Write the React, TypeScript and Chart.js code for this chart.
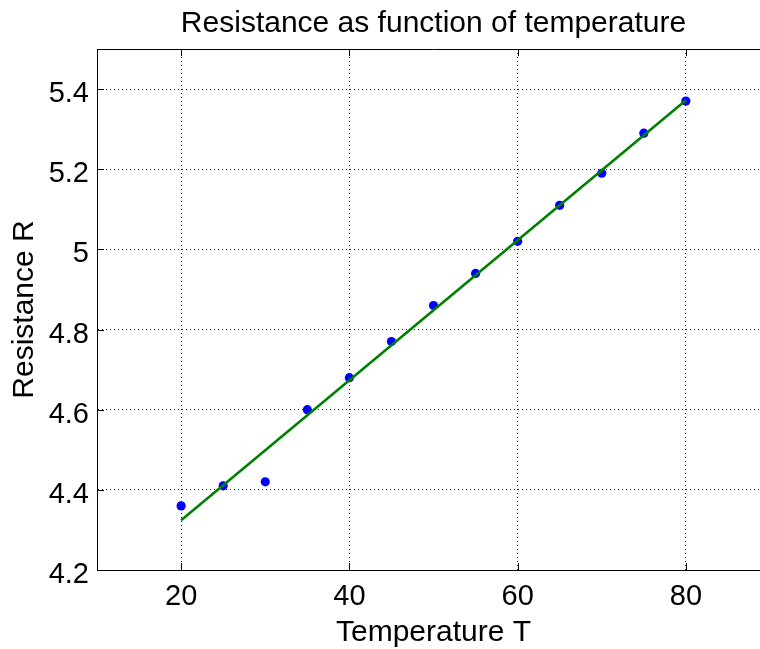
import React, { useEffect, useRef } from "react";
import { Chart, registerables } from "chart.js";

Chart.register(...registerables);

const temperature = [20, 25, 30, 35, 40, 45, 50, 55, 60, 65, 70, 75, 80];
const resistance = [4.36, 4.41, 4.42, 4.6, 4.68, 4.77, 4.86, 4.94, 5.02, 5.11, 5.19, 5.29, 5.37];
const fitT = [20, 80];
const fitR = [4.324, 5.372];
const xTicks = [20, 40, 60, 80];
const yTicks = [4.2, 4.4, 4.6, 4.8, 5.0, 5.2, 5.4];

const FONT = "'Liberation Sans', Arial, Helvetica, sans-serif";
const TICK_LEN = 7;

const framePlugin = {
  id: "frame",
  beforeDatasetsDraw(chart: any) {
    const { ctx, chartArea, scales } = chart;
    const { left, right, top, bottom } = chartArea;
    const xs = scales.x;
    const ys = scales.y;
    ctx.save();
    ctx.strokeStyle = "#000";
    ctx.lineWidth = 1;
    ctx.setLineDash([]);
    ctx.beginPath();
    for (const v of xTicks) {
      const px = Math.round(xs.getPixelForValue(v)) + 0.5;
      ctx.moveTo(px, bottom);
      ctx.lineTo(px, bottom - TICK_LEN);
      ctx.moveTo(px, top);
      ctx.lineTo(px, top + TICK_LEN);
    }
    for (const v of yTicks) {
      const py = Math.round(ys.getPixelForValue(v)) + 0.5;
      ctx.moveTo(left, py);
      ctx.lineTo(left + TICK_LEN, py);
      ctx.moveTo(right, py);
      ctx.lineTo(right - TICK_LEN, py);
    }
    const t = Math.round(top) + 0.5;
    const r = Math.round(right) + 0.5;
    ctx.moveTo(left, t);
    ctx.lineTo(right, t);
    ctx.moveTo(r, top);
    ctx.lineTo(r, bottom);
    ctx.stroke();
    ctx.restore();
  },
};

export default function App() {
  const ref = useRef<HTMLCanvasElement | null>(null);

  useEffect(() => {
    if (!ref.current) return;
    const chart = new Chart(ref.current, {
      type: "scatter",
      data: {
        datasets: [
          {
            type: "line",
            label: "fit",
            data: fitT.map((t, i) => ({ x: t, y: fitR[i] })),
            borderColor: "#008000",
            borderWidth: 2.6,
            pointRadius: 0,
            fill: false,
          },
          {
            label: "measured",
            data: temperature.map((t, i) => ({ x: t, y: resistance[i] })),
            backgroundColor: "#0000ff",
            borderColor: "#0000ff",
            pointRadius: 4.6,
            pointBorderWidth: 0,
            showLine: false,
          },
        ],
      } as any,
      options: {
        animation: false,
        responsive: false,
        layout: { padding: { left: 0, right: 30, top: 0, bottom: 0 } },
        plugins: {
          legend: { display: false },
          tooltip: { enabled: false },
          title: {
            display: true,
            text: "Resistance as function of temperature",
            color: "#000",
            fullSize: false,
            font: { family: FONT, size: 30, weight: "normal" },
            padding: { top: 6, bottom: 7 },
          },
        },
        scales: {
          x: {
            type: "linear",
            min: 10,
            max: 90,
            afterBuildTicks: (s: any) => {
              s.ticks = xTicks.map((v) => ({ value: v }));
            },
            afterFit: (s: any) => {
              s.height = 79;
            },
            ticks: {
              color: "#000",
              font: { family: FONT, size: 29 },
              padding: 10,
              maxRotation: 0,
              autoSkip: false,
              callback: (v: any) => String(v),
            },
            grid: {
              color: "rgba(0,0,0,0.85)",
              lineWidth: 1,
              drawTicks: false,
            },
            border: { display: true, color: "#000", width: 1, dash: [1, 3] },
            title: {
              display: true,
              text: "Temperature T",
              color: "#000",
              font: { family: FONT, size: 30, lineHeight: 1 },
              padding: { top: 0, bottom: 1 },
            },
          },
          y: {
            type: "linear",
            min: 4.2,
            max: 5.5,
            afterBuildTicks: (s: any) => {
              s.ticks = yTicks.map((v) => ({ value: v }));
            },
            afterFit: (s: any) => {
              s.width = 97;
            },
            ticks: {
              color: "#000",
              font: { family: FONT, size: 29 },
              padding: 8,
              labelOffset: 5,
              autoSkip: false,
              callback: (v: any) => String(Math.round(Number(v) * 10) / 10),
            },
            grid: {
              color: "rgba(0,0,0,0.85)",
              lineWidth: 1,
              drawTicks: false,
            },
            border: { display: true, color: "#000", width: 1, dash: [1, 3] },
            title: {
              display: true,
              text: "Resistance R",
              color: "#000",
              font: { family: FONT, size: 30 },
              padding: { top: 7, bottom: 0 },
            },
          },
        },
      } as any,
      plugins: [framePlugin],
    });
    return () => chart.destroy();
  }, []);

  return (
    <div
      style={{
        position: "fixed",
        left: 0,
        top: 0,
        width: 760,
        height: 649,
        overflow: "hidden",
        background: "#fff",
      }}
    >
      <canvas ref={ref} width={800} height={649} style={{ display: "block", width: 800, height: 649 }} />
    </div>
  );
}
